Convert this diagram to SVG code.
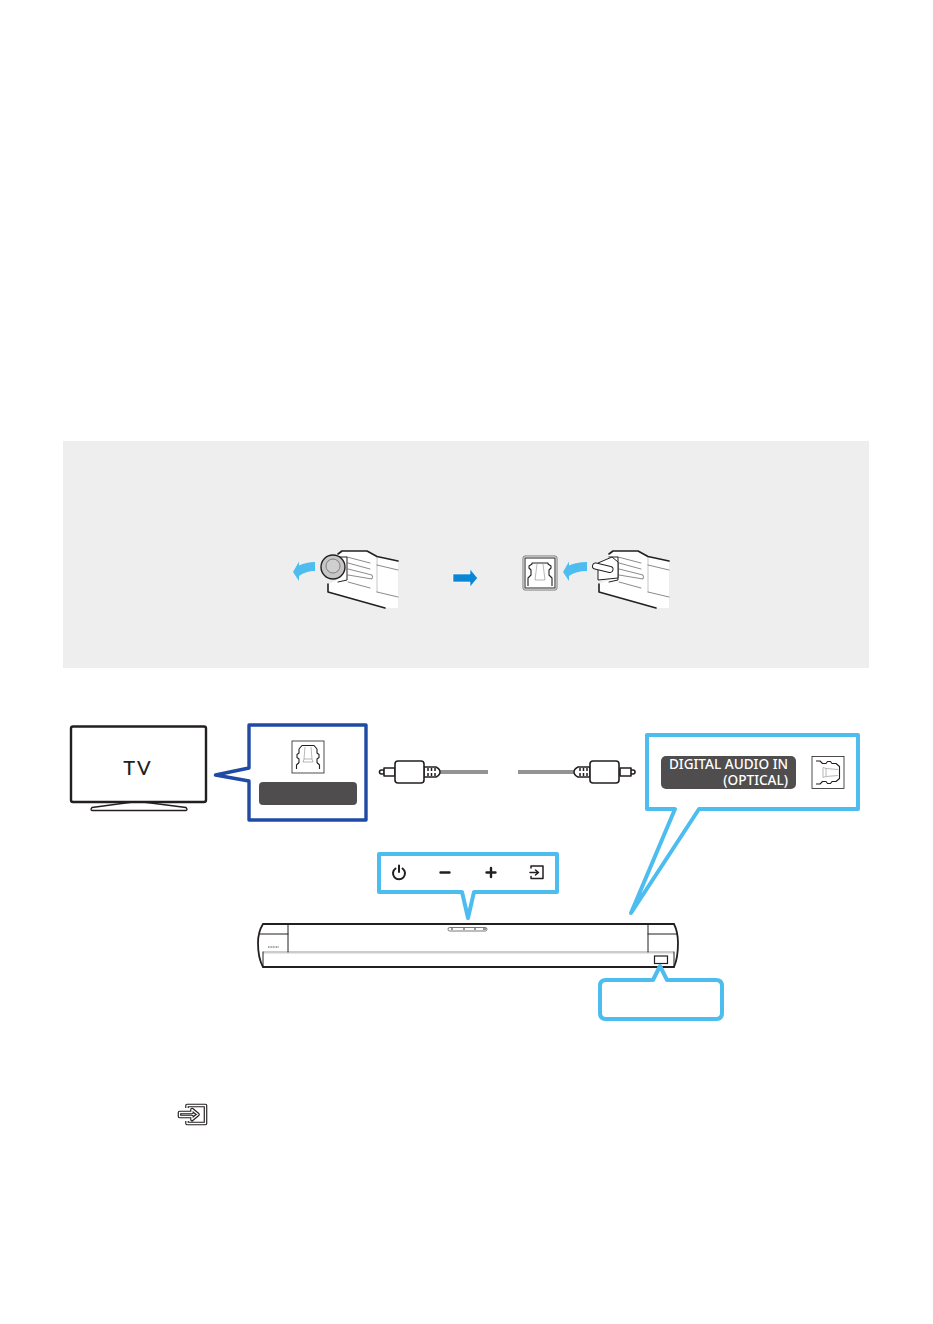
<svg xmlns="http://www.w3.org/2000/svg" xmlns:xlink="http://www.w3.org/1999/xlink" width="933" height="1324" viewBox="0 0 933 1324">
<style>
.ink{fill:none;stroke:#231f20;stroke-linejoin:round;stroke-linecap:round}
.sky{fill:#fff;stroke:#4dbdf0;stroke-width:4;stroke-linejoin:round}
.bend{fill:#4dbdf0}
.cable{fill:#939393}
.plug{fill:#fff;stroke:#231f20;stroke-width:1.6;stroke-linejoin:round}
.label{font-family:"Noto Sans","Open Sans",sans-serif;fill:#fff;font-size:13.6px;font-weight:500}
</style>
<defs>
<!-- optical plug housing, nose towards the upper left -->
<g id="housing">
<path d="M338 554L342 551H367L377 556.500L398 561V608H385L328 592V584L338 580Z" fill="#fff"/>
<path class="ink" stroke-width="1.600" d="M338 554L342 551H367L377 556.500L398 561"/>
<path class="ink" stroke-width="1.600" d="M328 584V592L385 608"/>
<path class="ink" stroke-width=".7" stroke-opacity=".75" d="M347 557L370 563M348 563L370 569M348 569L372 575Q373 577 372 579L348 575M348 582L370 588M377 565L398 570M377 592L398 597"/>
<path class="ink" stroke-width=".5" stroke-opacity=".5" d="M377 556.500V592"/>
<path class="ink" stroke-width="1" d="M338 557L347 557V580L338 582"/>
</g>
<!-- square optical socket -->
<g id="socket">
<rect x="0" y="0" width="32" height="32" fill="#fff" stroke="#231f20" stroke-width=".8"/>
<path d="M4.500 28V24L7 21.500V18L5 16.500V13.500L7 12V8L10 4.500H22L25 8V12L27 13.500V16.500L25 18V21.500L27.500 24V28" fill="#fff" stroke="#231f20" stroke-width="1.100" stroke-linejoin="round"/>
<path d="M13 6L12 18H20L19 6M12 18L11 21H21L20 18" fill="none" stroke="#9a9a9a" stroke-width=".7"/>
</g>
</defs>
<rect width="933" height="1324" fill="#fff"/>

<g id="protective-cap-panel">
<rect x="63" y="441" width="806" height="227" fill="#eeeeee"/>
</g>

<g id="cap-removal">
<use xlink:href="#housing"/>
<circle cx="333" cy="567" r="12" fill="#c6c6c6" stroke="#231f20" stroke-width="1.400"/>
<circle cx="333" cy="566" r="7" fill="#cfcfcf" stroke="#6d6d6d" stroke-width=".8"/>
<path class="bend" d="M293 572L299 561.500V565.500Q306 562 315 562V571Q306 571 299 576V581Z"/>
</g>

<g id="step-arrow">
<path d="M453 574H470V569L477.500 578L470 587V582H453Z" fill="#0a86d6" stroke="#fff" stroke-width=".6"/>
</g>

<g id="plug-insertion">
<use xlink:href="#housing" x="271"/>
<path d="M598 563L612 557L618 562V578L598 580Z" fill="#fff" stroke="#231f20" stroke-width="1"/>
<path d="M595.500 566L610 569.500" stroke="#231f20" stroke-width="7" stroke-linecap="round"/>
<path d="M595.500 566L610 569.500" stroke="#fff" stroke-width="5" stroke-linecap="round"/>
<rect x="523" y="556" width="34" height="34" rx="2" fill="#fff" stroke="#777" stroke-width="1"/>
<rect x="525" y="558" width="30" height="30" fill="none" stroke="#231f20" stroke-width="1"/>
<path d="M528 586V578L531 575V570L529 568V566L532 564V563H548V564L551 566V568L549 570V575L552 578V586" fill="#fff" stroke="#231f20" stroke-width="1.100" stroke-linejoin="round"/>
<path d="M537 564L535 580H545L543 564" fill="none" stroke="#9a9a9a" stroke-width=".7"/>
<path class="bend" d="M563 572L569 561.500V565.500Q576 562 587 562V571Q576 571 569 576V581Z"/>
</g>

<g id="tv">
<rect x="71" y="726.500" width="135" height="75.500" rx="2" fill="#fff" stroke="#231f20" stroke-width="2.400"/>
<path class="ink" stroke-width="1.300" fill="#fff" d="M133 802L92 807.500Q90 810 92 810.500H186Q188 810 186 807.500L143 802"/>
<text x="138" y="775" text-anchor="middle" font-family="Lato,'Noto Sans',sans-serif" font-size="20" letter-spacing="2" font-weight="500" fill="#231f20">TV</text>
</g>

<g id="tv-port-callout">
<path d="M249 768V725H366V820H249V781L215.500 775Z" fill="#fff" stroke="#1f4ba5" stroke-width="3.400" stroke-linejoin="round"/>
<use xlink:href="#socket" x="292" y="741"/>
<rect x="259" y="782" width="98" height="23" rx="4" fill="#4f4d4e"/>
</g>

<g id="connectors">
<rect class="cable" x="440" y="770" width="48" height="4"/>
<rect class="cable" x="518" y="770" width="56" height="4"/>
</g>

<g id="plug-left">
<rect class="plug" x="379.500" y="770" width="5" height="4" rx="2"/>
<rect class="plug" x="384" y="768" width="11" height="8"/>
<path d="M424 767H436Q440 769 440 772Q440 775 436 777H424Z" fill="#fff" stroke="#231f20" stroke-width="1.500"/>
<path d="M428 768V776M431.500 768V776M435 768V776" stroke="#231f20" stroke-width="1.500" stroke-dasharray="3 2"/>
<rect x="395" y="761" width="29" height="22" rx="3" fill="#fff" stroke="#231f20" stroke-width="1.600"/>
</g>

<g id="plug-right">
<rect class="plug" x="630" y="770" width="5" height="4" rx="2"/>
<rect class="plug" x="620" y="768" width="11" height="8"/>
<path d="M590 767H578Q574 769 574 772Q574 775 578 777H590Z" fill="#fff" stroke="#231f20" stroke-width="1.500"/>
<path d="M580 768V776M583.500 768V776M587 768V776" stroke="#231f20" stroke-width="1.500" stroke-dasharray="3 2"/>
<rect x="590" y="761" width="29" height="22" rx="3" fill="#fff" stroke="#231f20" stroke-width="1.600"/>
</g>

<g id="digital-audio-callout">
<path class="sky" d="M647 735H858V809H699L631 913L675 809H647Z"/>
<rect x="661" y="756" width="135" height="33" rx="5" fill="#4f4d4e"/>
<text class="label" x="788" y="769" text-anchor="end">DIGITAL AUDIO IN</text>
<text class="label" x="788" y="785" text-anchor="end">(OPTICAL)</text>
<use xlink:href="#socket" transform="translate(844 756.500) rotate(90)"/>
</g>

<g id="soundbar">
<path d="M263 924H674Q678 932 678 943Q678 958 674 967H263Q258 958 258 943Q258 932 263 924Z" fill="#fff" stroke="#231f20" stroke-width="1.800"/>
<path d="M263 952H674" stroke="#9a9a9a" stroke-width="1.200"/>
<path d="M263 953.500H674" stroke="#e6e6e6" stroke-width="1"/>
<path class="ink" stroke-width="1" d="M288 924V952M260 934H288M648 924V952M648 934H677M263 952V967M674 952V967"/>
<rect x="448" y="927.500" width="39" height="3.500" rx="1.700" fill="#fff" stroke="#555" stroke-width=".8"/>
<path d="M451 929H453M463 929H465M474 929H476M483 929H486" stroke="#333" stroke-width="1"/>
<path d="M268 947H279" stroke="#444" stroke-width="1.200" stroke-dasharray="1 .6"/>
<rect x="654.500" y="956" width="13" height="7.500" fill="#fff" stroke="#231f20" stroke-width="1.200"/>
</g>

<g id="button-callout">
<path class="sky" d="M379 854H557V892H474L468 918L462 892H379Z" stroke-width="3.400"/>
<path class="ink" stroke-width="2" d="M395.500 868.500A6 6 0 1 0 402.500 868.500M399 865.500V872"/>
<path class="ink" stroke-width="2.400" d="M440.500 872.500H449.500M486.500 872.500H495.500M491 868V877"/>
<path class="ink" stroke-width="1.500" d="M531 868V866H543V878.500H531V876.500M530 872.500H538M535.500 870L538.500 872.500L535.500 875"/>
</g>

<g id="port-callout">
<path class="sky" d="M606 980H653L660 966L667 980H716Q722 980 722 986V1013Q722 1019 716 1019H606Q600 1019 600 1013V986Q600 980 606 980Z" stroke-width="3.400"/>
</g>

<g id="input-icon">
<path fill="none" stroke="#231f20" stroke-width="3.600" stroke-linejoin="round" d="M187 1108V1105.500H205.500V1123.500H187V1121M179.500 1112.500H192V1109.500L198 1114.500L192 1119.500V1116.500H179.500Z"/>
<path fill="none" stroke="#fff" stroke-width="1.300" stroke-linejoin="round" d="M187 1108V1105.500H205.500V1123.500H187V1121M179.500 1112.500H192V1109.500L198 1114.500L192 1119.500V1116.500H179.500Z"/>
</g>
</svg>
